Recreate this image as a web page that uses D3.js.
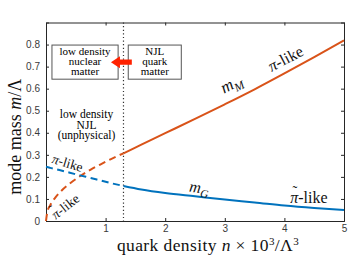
<!DOCTYPE html>
<html>
<head>
<meta charset="utf-8">
<script src="https://cdn.jsdelivr.net/npm/d3@7"></script>
<style>
  html, body { margin: 0; padding: 0; background: #fff; }
  svg { display: block; }
</style>
</head>
<body>
<div id="chart"></div>
<script>
// data
const nLow = [0, 0.02, 0.07, 0.15, 0.24, 0.4, 0.57, 0.75, 0.91, 1.1, 1.3];
const mMLow = [0, 0.038, 0.071, 0.104, 0.132, 0.17, 0.203, 0.233, 0.256, 0.282, 0.307];
const mGLow = [0.246, 0.245, 0.241, 0.236, 0.23, 0.219, 0.207, 0.195, 0.184, 0.171, 0.159];

const nHigh = [1.3, 1.6, 2, 2.5, 3, 3.5, 4, 4.5, 5];
const mMHigh = [0.307, 0.346, 0.398, 0.463, 0.529, 0.597, 0.669, 0.743, 0.819];
const mGHigh = [0.159, 0.143, 0.127, 0.112, 0.097, 0.084, 0.070, 0.059, 0.050];

const xTicks = [0, 1, 2, 3, 4, 5];
const yTicks = [0, 0.1, 0.2, 0.3, 0.4, 0.5, 0.6, 0.7, 0.8];
const nCut = 1.3;

const width = 350, height = 263;
const margin = { top: 22.5, right: 6, bottom: 42, left: 46 };
const orange = "#D95319", blue = "#0072BD", axisColor = "#262626";
const serif = "'Liberation Serif', 'Times New Roman', serif";
const sans = "'Liberation Sans', Helvetica, Arial, sans-serif";

const svg = d3.select("#chart").append("svg")
    .attr("width", width)
    .attr("height", height);

const x = d3.scaleLinear().domain([0, 5]).range([margin.left, width - margin.right]);
const y = d3.scaleLinear().domain([0, 0.9]).range([height - margin.bottom, margin.top]);

// axes, MATLAB style: ticks inward on all sides
const tickLen = 3;
svg.append("g")
    .attr("transform", `translate(0,${y(0)})`)
    .call(d3.axisBottom(x).tickValues(xTicks).tickSize(-tickLen).tickPadding(4)
        .tickFormat(d => d === 0 ? "" : d3.format("d")(d)));
svg.append("g")
    .attr("transform", `translate(0,${y(0.9)})`)
    .call(d3.axisTop(x).tickValues(xTicks).tickSize(-tickLen).tickFormat(""));
svg.append("g")
    .attr("transform", `translate(${x(0)},0)`)
    .call(d3.axisLeft(y).tickValues(yTicks).tickSize(-tickLen).tickPadding(6)
        .tickFormat(d => d === 0 ? "0" : d3.format(".1f")(d)));
svg.append("g")
    .attr("transform", `translate(${x(5)},0)`)
    .call(d3.axisRight(y).tickValues(yTicks).tickSize(-tickLen).tickFormat(""));

svg.selectAll(".domain").attr("stroke", axisColor);
svg.selectAll(".tick line").attr("stroke", axisColor);
svg.selectAll(".tick text")
    .attr("fill", "#3a3a3a")
    .style("font-family", sans)
    .style("font-size", "10px");

// dotted separator
svg.append("line")
    .attr("x1", x(nCut)).attr("x2", x(nCut))
    .attr("y1", y(0.9)).attr("y2", y(0))
    .attr("stroke", "#333")
    .attr("stroke-width", 1.2)
    .attr("stroke-dasharray", "1.2,2.4");

// curves
const line = d3.line().x(d => x(d[0])).y(d => y(d[1])).curve(d3.curveMonotoneX);
const series = [
    { n: nLow, m: mMLow, color: orange, dash: "7,4.5" },
    { n: nLow, m: mGLow, color: blue, dash: "7,4.5" },
    { n: nHigh, m: mMHigh, color: orange, dash: null },
    { n: nHigh, m: mGHigh, color: blue, dash: null }
];
svg.selectAll("path.curve").data(series).join("path")
    .attr("class", "curve")
    .attr("d", s => line(s.n.map((v, i) => [v, s.m[i]])))
    .attr("fill", "none")
    .attr("stroke", s => s.color)
    .attr("stroke-width", 2)
    .attr("stroke-dasharray", s => s.dash);

// boxes
const boxes = [
    { x0: 0.1, x1: 1.21, lines: ["low density", "nuclear", "matter"] },
    { x0: 1.38, x1: 2.27, lines: ["NJL", "quark", "matter"] }
];
const bTop = y(0.8) + 0.5, bBot = y(0.643);
boxes.forEach(b => {
    svg.append("rect")
        .attr("x", x(b.x0)).attr("y", bTop)
        .attr("width", x(b.x1) - x(b.x0)).attr("height", bBot - bTop)
        .attr("fill", "#fff")
        .attr("stroke", "#555")
        .attr("stroke-width", 1);
    svg.append("text")
        .attr("x", (x(b.x0) + x(b.x1)) / 2)
        .attr("y", bTop + 10)
        .attr("text-anchor", "middle")
        .style("font-family", serif)
        .style("font-size", "11px")
        .selectAll("tspan").data(b.lines).join("tspan")
        .attr("x", (x(b.x0) + x(b.x1)) / 2)
        .attr("dy", (d, i) => i === 0 ? 0 : 10)
        .text(d => d);
});

// red arrow pointing left
const ay = y(0.72), tip = x(1.09), tail = x(1.44);
svg.append("path")
    .attr("d", `M${tip},${ay} L${tip + 9},${ay - 6} L${tip + 9},${ay - 2.6} L${tail},${ay - 2.6}
                L${tail},${ay + 2.6} L${tip + 9},${ay + 2.6} L${tip + 9},${ay + 6} Z`)
    .attr("fill", "#FF2200");

// low density NJL note
svg.append("text")
    .attr("x", x(0.68)).attr("y", y(0.465))
    .attr("text-anchor", "middle")
    .style("font-family", serif)
    .style("font-size", "11.5px")
    .selectAll("tspan").data(["low density", "NJL", "(unphysical)"]).join("tspan")
    .attr("x", x(0.68))
    .attr("dy", (d, i) => i === 0 ? 0 : 10.5)
    .text(d => d);

// curve labels
function label(n, m, angle, size, parts) {
    const g = svg.append("g")
        .attr("transform", `translate(${x(n)},${y(m)}) rotate(${angle})`);
    const t = g.append("text")
        .attr("text-anchor", "middle")
        .style("font-family", serif)
        .style("font-size", size + "px")
        .attr("fill", "#111");
    parts.forEach(p => {
        const s = t.append("tspan").text(p.t);
        if (p.it) s.style("font-style", "italic");
        if (p.sub) s.attr("dy", size * 0.25).style("font-size", (size * 0.7) + "px");
    });
    // tilde accent placed over the first glyph
    if (parts[0].tilde) {
        const r = t.node().getExtentOfChar(0);
        g.append("text")
            .attr("x", r.x + r.width / 2 + size * 0.04)
            .attr("y", r.y + size * 0.42)
            .attr("text-anchor", "middle")
            .style("font-family", serif)
            .style("font-size", (size * 0.9) + "px")
            .attr("fill", "#111")
            .text("˜");
    }
}
label(3.15, 0.6, -27.5, 17, [{ t: "m", it: true }, { t: "M", it: true, sub: true }]);
label(4.06, 0.715, -27.5, 16, [{ t: "π", it: true }, { t: "-like" }]);
label(2.56, 0.128, 8, 16, [{ t: "m", it: true }, { t: "G", it: true, sub: true }]);
label(4.41, 0.082, 0, 16, [{ t: "π", it: true, tilde: true }, { t: "-like" }]);
label(0.34, 0.243, 17, 13.5, [{ t: "π", it: true }, { t: "-like" }]);
label(0.37, 0.05, -38, 13.5, [{ t: "π", it: true, tilde: true }, { t: "-like" }]);

// axis titles
const yt = svg.append("text")
    .attr("transform", `translate(21,${(y(0) + y(0.9)) / 2 + 15}) rotate(-90)`)
    .attr("text-anchor", "middle")
    .style("font-family", serif)
    .style("font-size", "18px")
    .attr("fill", "#111");
yt.append("tspan").text("mode mass ");
yt.append("tspan").text("m").style("font-style", "italic");
yt.append("tspan").text("/Λ");

const xt = svg.append("text")
    .attr("x", 208).attr("y", 251)
    .attr("text-anchor", "middle")
    .style("font-family", serif)
    .style("font-size", "17.5px")
    .style("letter-spacing", "0.4px")
    .attr("fill", "#111");
xt.append("tspan").text("quark density ");
xt.append("tspan").text("n").style("font-style", "italic");
xt.append("tspan").text(" × 10");
xt.append("tspan").text("3").attr("dy", -6).style("font-size", "11px");
xt.append("tspan").text("/Λ").attr("dy", 6);
xt.append("tspan").text("3").attr("dy", -6).style("font-size", "11px");
</script>
</body>
</html>
